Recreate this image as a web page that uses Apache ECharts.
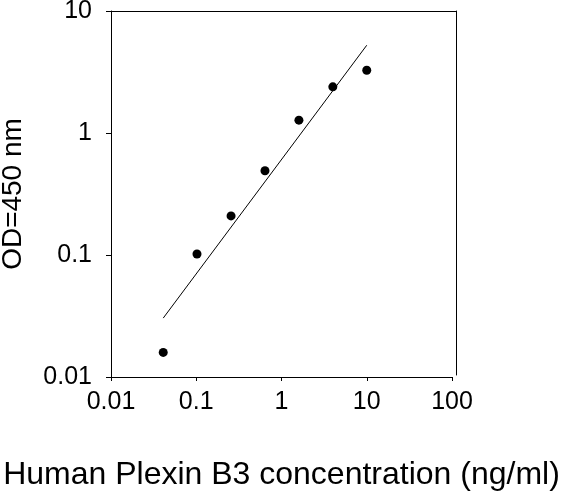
<!DOCTYPE html>
<html>
<head>
<meta charset="utf-8">
<script src="https://cdn.jsdelivr.net/npm/echarts@6/dist/echarts.min.js"></script>
<style>
  html, body { margin: 0; padding: 0; background: #fff; }
  #main { width: 564px; height: 494px; }
</style>
</head>
<body>
<div id="main"></div>
<script>
    // standard points (ng/ml vs OD)
    var concX = [0.041, 0.102, 0.256, 0.64, 1.6, 4, 10];
    var odY = [0.0159, 0.102, 0.209, 0.49, 1.275, 2.39, 3.27];
    // fitted line end points
    var fitX = [0.041, 10];
    var fitY = [0.0304, 5.24];

    var FONT = 'Liberation Sans';

    var pts = concX.map(function (x, i) { return [x, odY[i]]; });
    var fit = fitX.map(function (x, i) { return [x, fitY[i]]; });

    var myChart = echarts.init(document.getElementById('main'));
    var option = {
        backgroundColor: '#fff',
        animation: false,
        grid: [
            { left: 111, top: 11, width: 341, height: 366, show: false, containLabel: false, outerBoundsMode: 'none' },
            // frame only (top and right lines)
            { left: 111, top: 11, width: 345, height: 364, show: false, containLabel: false, outerBoundsMode: 'none' }
        ],
        xAxis: [
            {
                type: 'log', gridIndex: 0, min: 0.01, max: 100, logBase: 10,
                name: 'Human Plexin B3 concentration (ng/ml)',
                nameLocation: 'middle', nameGap: 82,
                nameTextStyle: { fontFamily: FONT, fontSize: 32, color: '#000' },
                axisLine: { onZero: false, lineStyle: { color: '#000', width: 1 } },
                axisTick: { inside: false, length: 4, lineStyle: { color: '#000' } },
                minorTick: { show: false },
                axisLabel: {
                    margin: 13, fontFamily: FONT, fontSize: 25, color: '#000',
                    formatter: function (v) { return String(v); }
                },
                splitLine: { show: false }
            },
            {
                type: 'value', gridIndex: 1, position: 'top', min: 0, max: 1,
                axisLine: { show: true, onZero: false, lineStyle: { color: '#000', width: 1 } },
                axisTick: { show: false }, axisLabel: { show: false },
                splitLine: { show: false }
            }
        ],
        yAxis: [
            {
                type: 'log', gridIndex: 0, min: 0.01, max: 10, logBase: 10,
                name: 'OD=450 nm',
                nameLocation: 'middle', nameGap: 84, nameRotate: 90,
                nameTextStyle: { fontFamily: FONT, fontSize: 28, color: '#000' },
                axisLine: { onZero: false, lineStyle: { color: '#000', width: 1 } },
                axisTick: { inside: false, length: 5, lineStyle: { color: '#000' } },
                axisLabel: {
                    margin: 19, fontFamily: FONT, fontSize: 25, color: '#000',
                    formatter: function (v) { return String(v); }
                },
                splitLine: { show: false }
            },
            {
                type: 'value', gridIndex: 1, position: 'right', min: 0, max: 1,
                axisLine: { show: true, onZero: false, lineStyle: { color: '#000', width: 1 } },
                axisTick: { show: false }, axisLabel: { show: false },
                splitLine: { show: false }
            }
        ],
        series: [
            {
                type: 'line', xAxisIndex: 0, yAxisIndex: 0,
                data: fit, symbol: 'none',
                lineStyle: { color: '#000', width: 1 }
            },
            {
                type: 'scatter', xAxisIndex: 0, yAxisIndex: 0,
                data: pts, symbol: 'circle', symbolSize: 9,
                itemStyle: { color: '#000', opacity: 1 }
            }
        ]
    };
    myChart.setOption(option);
</script>
</body>
</html>
